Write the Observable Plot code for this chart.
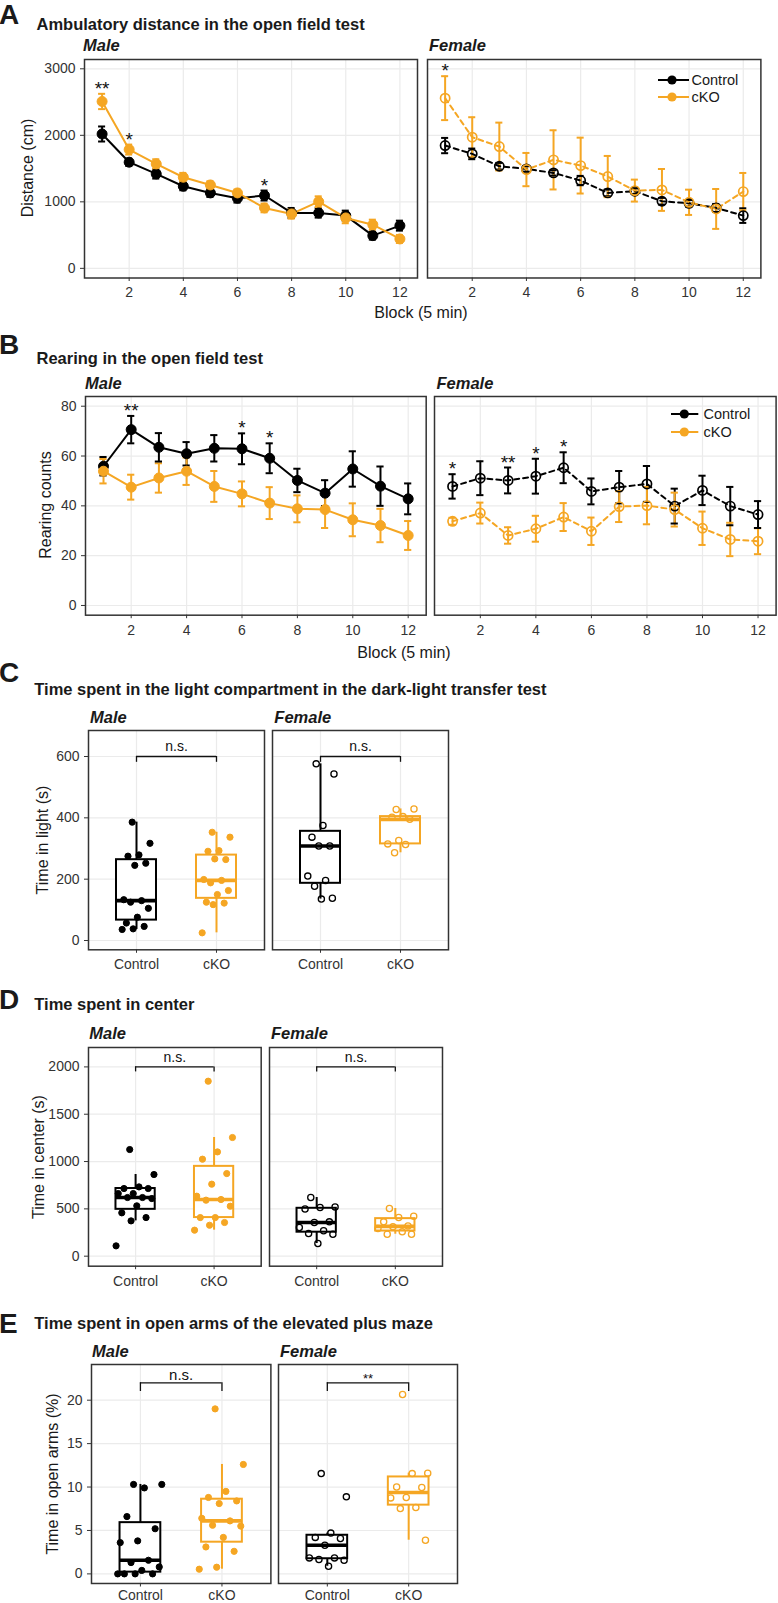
<!DOCTYPE html>
<html><head><meta charset="utf-8">
<script src="https://cdn.jsdelivr.net/npm/d3@7"></script>
<script src="https://cdn.jsdelivr.net/npm/@observablehq/plot@0.6"></script>
<style>
body{margin:0;background:#fff;}
#fig{position:relative;width:778px;height:1603px;font-family:"Liberation Sans",Arial,Helvetica,sans-serif;color:#1a1a1a;overflow:hidden;background:#fff;}
.abs{position:absolute;white-space:nowrap;line-height:1;}
.letter{font-weight:bold;font-size:28px;}
.title{font-weight:bold;font-size:16.5px;}
.strip{font-weight:bold;font-style:italic;font-size:16.5px;}
.axt{font-size:16px;}
.leg{font-size:14.5px;}
</style></head><body><div id="fig"></div><script>
// ---------- data ----------
const blocks = [1,2,3,4,5,6,7,8,9,10,11,12];
const blockTicks = [2,4,6,8,10,12];
const groups = ["Control","cKO"];
const colors = ["#000000","#F5A623"];

// A: ambulatory distance (cm), mean and SEM
const distMaleCtrl   = [2020,1596,1420,1234,1134,1054,1095,833,833,793,492,642];
const distMaleCtrlSE = [113,55,70,60,60,65,75,75,70,75,60,75];
const distMaleCko    = [2509,1786,1570,1370,1254,1134,908,818,1003,758,657,442];
const distMaleCkoSE  = [115,75,70,65,55,50,65,70,80,80,75,60];
const distFemCtrl    = [1846,1721,1535,1495,1435,1320,1134,1159,1009,978,908,793];
const distFemCtrlSE  = [115,80,50,40,40,70,50,40,50,50,60,110];
const distFemCko     = [2559,1972,1831,1485,1631,1545,1380,1169,1179,993,893,1154];
const distFemCkoSE   = [330,300,360,250,445,420,310,165,315,190,300,280];
const distTicks = [0,1000,2000,3000];
const distMaleStarBlocks = [1,2,7], distMaleStarLabels = ["**","*","*"];
const distFemStarBlocks = [1], distFemStarLabels = ["*"];

// B: rearing counts
const rearMaleCtrl   = [55.9,70.6,63.5,60.9,63.1,62.9,59.1,50.2,45.1,54.8,47.9,42.8];
const rearMaleCtrlSE = [3.7,5.5,5.7,4.7,5.3,6.2,6.0,4.7,5.2,7.1,7.9,6.2];
const rearMaleCko    = [53.9,47.5,51.2,53.9,47.8,44.8,41.1,38.8,38.5,34.4,32.1,28.1];
const rearMaleCkoSE  = [4.9,5.0,5.9,5.5,6.2,5.0,6.4,5.4,7.4,6.6,6.7,5.8];
const rearFemCtrl    = [47.8,51.1,50.2,51.9,55.3,45.8,47.5,48.8,39.9,46.2,39.9,36.5];
const rearFemCtrlSE  = [4.9,6.8,5.2,7.0,6.2,5.2,6.5,7.2,7.0,5.9,7.7,5.4];
const rearFemCko     = [33.8,37.1,28.1,30.8,35.5,29.8,39.7,40.1,38.5,31.0,26.5,25.8];
const rearFemCkoSE   = [1.4,4.2,3.3,5.2,5.6,5.5,6.2,7.5,6.8,6.7,6.7,5.2];
const rearTicks = [0,20,40,60,80];
const rearMaleStarBlocks = [2,6,7], rearMaleStarLabels = ["**","*","*"];
const rearFemStarBlocks = [1,3,4,5], rearFemStarLabels = ["*","**","*","*"];

// C: time in light (s)
const lightMaleCtrl = [386,317,279,275,252,245,133,130,125,105,76,57,46,38,36];
const lightMaleCko  = [353,337,293,291,264,266,199,196,188,163,150,125,122,117,25];
const lightFemCtrl  = [576,543,375,337,308,308,210,196,177,138,135];
const lightFemCko   = [427,429,404,402,395,326,315,313,286];
const lightTicks = [0,200,400,600];
const lightSig = ["n.s.","n.s."];

// D: time in center (s)
const centerMaleCtrl = [1127,863,732,715,715,662,662,620,620,609,532,458,408,373,109];
const centerMaleCko  = [1849,1254,1102,1025,873,761,634,599,592,528,408,408,356,327,275];
const centerFemCtrl  = [620,521,514,498,363,356,303,268,239,232,134];
const centerFemCko   = [504,423,408,363,320,310,292,257,232,232];
const centerTicks = [0,500,1000,1500,2000];
const centerSig = ["n.s.","n.s."];

// E: time in open arms (%)
const armsMaleCtrl = [10.3,10.3,9.9,6.6,5.2,3.8,3.6,1.57,1.3,0.8,0.4,0,0,0,0];
const armsMaleCko  = [19.0,12.6,9.5,8.8,8.4,8.1,6.4,6.1,5.6,5.5,4.2,3.1,2.6,0.77,0.54];
const armsFemCtrl  = [11.55,8.87,4.7,4.2,4.07,3.3,1.84,1.84,1.65,1.57,0.88];
const armsFemCko   = [20.65,11.6,11.55,10.0,9.94,8.8,8.75,7.64,7.52,3.88];
const armsTicks = [0,5,10,15,20];
const armsSig = ["n.s.","**"];

// ---------- helpers ----------
const FONT = "'Liberation Sans', Arial, Helvetica, sans-serif";
const fig = document.getElementById("fig");
const colorScale = {domain: groups, range: colors};
const GRID = {stroke: "#ebebeb", strokeOpacity: 1, strokeWidth: 1.2};
const plain = d => String(d);

function label(str, cls, x, cy, mode) {
  const d = document.createElement("div");
  d.className = "abs " + cls;
  d.textContent = str;
  d.style.left = x + "px";
  d.style.top = cy + "px";
  d.style.transform = mode === "rot" ? "translate(-50%,-50%) rotate(-90deg)"
                    : mode === "center" ? "translate(-50%,-50%)" : "translateY(-50%)";
  fig.appendChild(d);
}
function placeSvg(svg, left, top) {
  svg.style.position = "absolute";
  svg.style.left = left + "px";
  svg.style.top = top + "px";
  fig.appendChild(svg);
}
function legend(x1, x2, dotX, ys, textX) {
  groups.forEach((g, i) => {
    const w = x2 - x1 + 10;
    fig.insertAdjacentHTML("beforeend",
      `<svg width="${w}" height="14" style="position:absolute;left:${x1-5}px;top:${ys[i]-7}px">` +
      `<line x1="5" x2="${w-5}" y1="7" y2="7" stroke="${colors[i]}" stroke-width="2"/>` +
      `<circle cx="${dotX-x1+5}" cy="7" r="4.6" fill="${colors[i]}"/></svg>`);
    label(g, "leg", textX, ys[i]);
  });
}
const baseStyle = {fontFamily: FONT, fontSize: "14px", color: "#333", background: "transparent", overflow: "visible"};

function linePanel(c) {
  const rows = [];
  blocks.forEach((b, i) => rows.push({block: b, group: "Control", mean: c.ctrl[i], se: c.ctrlSE[i]}));
  blocks.forEach((b, i) => rows.push({block: b, group: "cKO", mean: c.cko[i], se: c.ckoSE[i]}));
  const stars = c.starBlocks.map((b, k) => ({
    block: b, label: c.starLabels[k],
    top: d3.max(rows.filter(r => r.block === b), r => r.mean + r.se)
  }));
  const mL = c.female ? 4 : 84, mR = 4, mT = 8, mB = 34;
  const f = c.fr;
  const marks = [
    Plot.gridX(blockTicks, GRID),
    Plot.gridY(c.yTicks, GRID),
    Plot.ruleX(rows, {x: "block", y1: d => d.mean - d.se, y2: d => d.mean + d.se, stroke: "group", strokeWidth: 2}),
    Plot.ruleY(rows, {y: d => d.mean + d.se, x1: d => d.block - 0.13, x2: d => d.block + 0.13, stroke: "group", strokeWidth: 2}),
    Plot.ruleY(rows, {y: d => d.mean - d.se, x1: d => d.block - 0.13, x2: d => d.block + 0.13, stroke: "group", strokeWidth: 2}),
    Plot.line(rows, {x: "block", y: "mean", z: "group", stroke: "group", strokeWidth: 2,
      ...(c.female ? {strokeDasharray: "5,4"} : {})}),
    Plot.dot(rows, {x: "block", y: "mean", stroke: "group", fill: c.female ? "none" : "group",
      r: c.female ? 4.6 : 5, strokeWidth: c.female ? 1.7 : 1}),
    Plot.text(stars, {x: "block", y: "top", text: "label", fontSize: 19, dy: -5, lineAnchor: "middle", fill: "#111"}),
    Plot.axisX(blockTicks, {tickSize: 3.5, tickPadding: 6, label: null, fontSize: 14, tickFormat: plain}),
    Plot.frame({stroke: "#333", strokeWidth: 1.5})
  ];
  if (!c.female) marks.push(Plot.axisY(c.yTicks, {tickSize: 4, tickPadding: 5, label: null, fontSize: 14, tickFormat: plain}));
  const svg = Plot.plot({
    width: f.w + mL + mR, height: f.h + mT + mB,
    marginLeft: mL, marginRight: mR, marginTop: mT, marginBottom: mB,
    style: baseStyle,
    x: {domain: [0.35, 12.65]},
    y: {domain: c.yDomain, ...(c.female ? {axis: null} : {})},
    color: colorScale,
    marks
  });
  placeSvg(svg, f.left - mL, f.top - mT);
}

function jitter(i, w) { return (((i * 0.618034 + 0.35) % 1) - 0.5) * 2 * w; }

function boxPanel(c) {
  const pts = [];
  [c.ctrl, c.cko].forEach((vals, g) => vals.forEach((v, i) =>
    pts.push({x: g + 1, group: groups[g], value: v, jit: jitter(i, c.jw)})));
  const stats = [c.ctrl, c.cko].map((vals, g) => {
    const s = vals.slice().sort(d3.ascending);
    const q1 = d3.quantileSorted(s, 0.25), med = d3.quantileSorted(s, 0.5), q3 = d3.quantileSorted(s, 0.75);
    const iqr = q3 - q1;
    return {x: g + 1, group: groups[g], q1, med, q3,
      lo: d3.min(s.filter(v => v >= q1 - 1.5 * iqr)), hi: d3.max(s.filter(v => v <= q3 + 1.5 * iqr))};
  });
  const br = [{y: c.brY, tip: c.brTip, label: c.sig}];
  const mL = c.female ? 4 : 84, mR = 4, mT = 8, mB = 34;
  const f = c.fr;
  const marks = [
    Plot.gridX([1, 2], GRID),
    Plot.gridY(c.yTicks, GRID),
    Plot.ruleX(stats, {x: "x", y1: "lo", y2: "hi", stroke: "group", strokeWidth: 2}),
    Plot.rect(stats, {x1: d => d.x - 0.25, x2: d => d.x + 0.25, y1: "q1", y2: "q3", fill: "white", stroke: "group", strokeWidth: 2}),
    Plot.ruleY(stats, {y: "med", x1: d => d.x - 0.25, x2: d => d.x + 0.25, stroke: "group", strokeWidth: 3.6}),
    Plot.dot(pts, {x: d => d.x + d.jit, y: "value", r: 3.1,
      stroke: "group", fill: c.female ? "none" : "group", strokeWidth: c.female ? 1.3 : 1}),
    Plot.ruleY(br, {y: "y", x1: 1, x2: 2, stroke: "#111", strokeWidth: 1.3}),
    Plot.ruleX([1, 2], {x: d => d, y1: br[0].tip, y2: br[0].y, stroke: "#111", strokeWidth: 1.3}),
    Plot.text(br, {x: 1.5, y: "y", text: "label", fontSize: c.sigSize, dy: c.sigDy, lineAnchor: "middle", fill: "#111"}),
    Plot.axisX([1, 2], {tickSize: 3.5, tickPadding: c.xPad ?? 6, label: null, fontSize: 14, tickFormat: d => groups[d - 1]}),
    Plot.frame({stroke: "#333", strokeWidth: 1.5})
  ];
  if (!c.female) marks.push(Plot.axisY(c.yTicks, {tickSize: 4, tickPadding: 5, label: null, fontSize: 14, tickFormat: plain}));
  const svg = Plot.plot({
    width: f.w + mL + mR, height: f.h + mT + mB,
    marginLeft: mL, marginRight: mR, marginTop: mT, marginBottom: mB,
    style: baseStyle,
    x: {domain: [0.4, 2.6]},
    y: {domain: c.yDomain, ...(c.female ? {axis: null} : {})},
    color: colorScale,
    marks
  });
  placeSvg(svg, f.left - mL, f.top - mT);
}

// ---------- A ----------
label("A", "letter", -1, 14.5);
label("Ambulatory distance in the open field test", "title", 36.5, 24);
label("Male", "strip", 83, 45);
label("Female", "strip", 429, 45);
linePanel({ctrl: distMaleCtrl, ctrlSE: distMaleCtrlSE, cko: distMaleCko, ckoSE: distMaleCkoSE, female: false,
  yDomain: [-145, 3140], yTicks: distTicks, starBlocks: distMaleStarBlocks, starLabels: distMaleStarLabels,
  fr: {left: 83.6, top: 59, w: 333, h: 218.5}});
linePanel({ctrl: distFemCtrl, ctrlSE: distFemCtrlSE, cko: distFemCko, ckoSE: distFemCkoSE, female: true,
  yDomain: [-145, 3140], yTicks: distTicks, starBlocks: distFemStarBlocks, starLabels: distFemStarLabels,
  fr: {left: 426.6, top: 59, w: 333.4, h: 218.5}});
legend(658, 689, 672, [80, 97.3], 691.5);
label("Distance (cm)", "axt", 27.5, 168, "rot");
label("Block (5 min)", "axt", 421, 313, "center");

// ---------- B ----------
label("B", "letter", -1, 345);
label("Rearing in the open field test", "title", 36.5, 357.5);
label("Male", "strip", 85, 382.5);
label("Female", "strip", 436.5, 382.5);
linePanel({ctrl: rearMaleCtrl, ctrlSE: rearMaleCtrlSE, cko: rearMaleCko, ckoSE: rearMaleCkoSE, female: false,
  yDomain: [-3.9, 83.9], yTicks: rearTicks, starBlocks: rearMaleStarBlocks, starLabels: rearMaleStarLabels,
  fr: {left: 85, top: 396, w: 340.7, h: 218.7}});
linePanel({ctrl: rearFemCtrl, ctrlSE: rearFemCtrlSE, cko: rearFemCko, ckoSE: rearFemCkoSE, female: true,
  yDomain: [-3.9, 83.9], yTicks: rearTicks, starBlocks: rearFemStarBlocks, starLabels: rearFemStarLabels,
  fr: {left: 434.2, top: 396, w: 341.6, h: 218.7}});
legend(670.7, 698, 684, [414.3, 431.7], 703.5);
label("Rearing counts", "axt", 45.5, 505, "rot");
label("Block (5 min)", "axt", 404, 653, "center");

// ---------- C ----------
label("C", "letter", -1, 673);
label("Time spent in the light compartment in the dark-light transfer test", "title", 34.3, 688.5);
label("Male", "strip", 90, 717);
label("Female", "strip", 274.3, 717);
boxPanel({ctrl: lightMaleCtrl, cko: lightMaleCko, female: false, yDomain: [-30.3, 684.8], yTicks: lightTicks,
  brY: 600, brTip: 581, sig: lightSig[0], sigSize: 14, sigDy: -9.5, jw: 0.18,
  fr: {left: 88.3, top: 730, w: 176, h: 219.3}});
boxPanel({ctrl: lightFemCtrl, cko: lightFemCko, female: true, yDomain: [-30.3, 684.8], yTicks: lightTicks,
  brY: 600, brTip: 581, sig: lightSig[1], sigSize: 14, sigDy: -9.5, jw: 0.18,
  fr: {left: 272.3, top: 730, w: 176, h: 219.3}});
label("Time in light (s)", "axt", 42.7, 839.5, "rot");

// ---------- D ----------
label("D", "letter", -1, 1000);
label("Time spent in center", "title", 34.3, 1004);
label("Male", "strip", 89.3, 1033);
label("Female", "strip", 271, 1033);
boxPanel({ctrl: centerMaleCtrl, cko: centerMaleCko, female: false, yDomain: [-105.7, 2205], yTicks: centerTicks,
  brY: 2000, brTip: 1947, sig: centerSig[0], sigSize: 14, sigDy: -9.5, jw: 0.25,
  fr: {left: 88.3, top: 1047.3, w: 172.7, h: 218.7}});
boxPanel({ctrl: centerFemCtrl, cko: centerFemCko, female: true, yDomain: [-105.7, 2205], yTicks: centerTicks,
  brY: 2000, brTip: 1947, sig: centerSig[1], sigSize: 14, sigDy: -9.5, jw: 0.25,
  fr: {left: 268.7, top: 1047.3, w: 173, h: 218.7}});
label("Time in center (s)", "axt", 39, 1157, "rot");

// ---------- E ----------
label("E", "letter", -1, 1324);
label("Time spent in open arms of the elevated plus maze", "title", 34.3, 1323);
label("Male", "strip", 92, 1350.5);
label("Female", "strip", 280, 1350.5);
boxPanel({ctrl: armsMaleCtrl, cko: armsMaleCko, female: false, yDomain: [-1.105, 24.11], yTicks: armsTicks,
  brY: 22.0, brTip: 21.0, sig: armsSig[0], sigSize: 15, sigDy: -7.6, jw: 0.28, xPad: 3,
  fr: {left: 91.3, top: 1364.3, w: 179.4, h: 219}});
boxPanel({ctrl: armsFemCtrl, cko: armsFemCko, female: true, yDomain: [-1.105, 24.11], yTicks: armsTicks,
  brY: 22.0, brTip: 21.0, sig: armsSig[1], sigSize: 13, sigDy: -3.5, jw: 0.25, xPad: 3,
  fr: {left: 278.3, top: 1364.3, w: 179, h: 219}});
label("Time in open arms (%)", "axt", 52.7, 1474, "rot");
</script></body></html>
